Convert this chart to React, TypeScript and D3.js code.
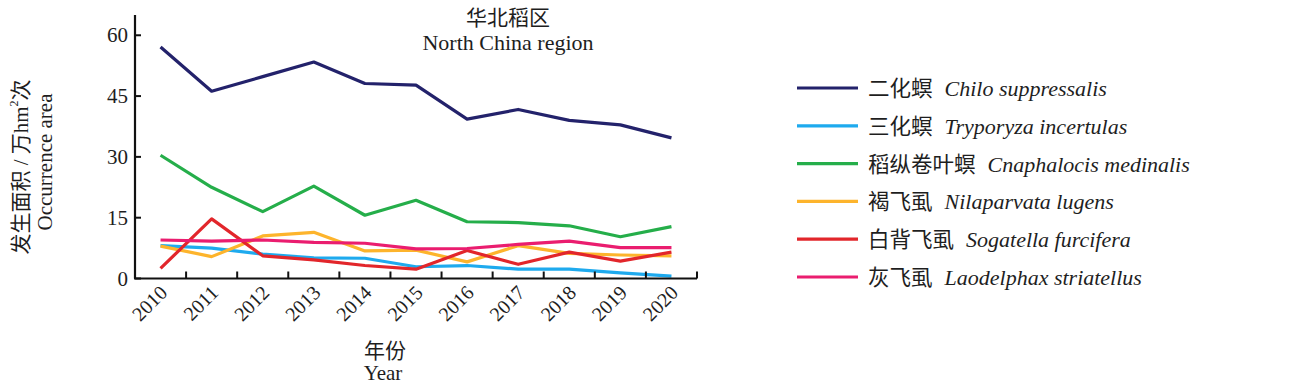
import { line, scaleBand, scaleLinear } from 'd3'
import { useMemo } from 'react'

const years = ['2010', '2011', '2012', '2013', '2014', '2015', '2016', '2017', '2018', '2019', '2020']
const yTicks = [0, 15, 30, 45, 60]

const chiloValues = [57.1, 46.2, 49.8, 53.4, 48.1, 47.7, 39.3, 41.7, 39.0, 37.9, 34.7]
const tryporyzaValues = [8.1, 7.5, 6.0, 5.1, 5.0, 2.9, 3.2, 2.3, 2.3, 1.4, 0.6]
const cnaphalocisValues = [30.4, 22.5, 16.5, 22.8, 15.6, 19.3, 14.0, 13.8, 13.0, 10.3, 12.8]
const nilaparvataValues = [8.0, 5.4, 10.5, 11.4, 6.8, 7.0, 4.1, 8.1, 6.2, 5.8, 5.6]
const sogatellaValues = [2.5, 14.7, 5.6, 4.6, 3.2, 2.3, 6.9, 3.5, 6.5, 4.3, 6.5]
const laodelphaxValues = [9.5, 9.2, 9.5, 8.9, 8.7, 7.3, 7.4, 8.4, 9.2, 7.6, 7.6]

const seriesNames = ['二化螟', '三化螟', '稻纵卷叶螟', '褐飞虱', '白背飞虱', '灰飞虱']
const seriesLatin = [
  'Chilo suppressalis',
  'Tryporyza incertulas',
  'Cnaphalocis medinalis',
  'Nilaparvata lugens',
  'Sogatella furcifera',
  'Laodelphax striatellus',
]
const seriesColors = ['#23226b', '#1eaaee', '#25ae4a', '#fdb42c', '#e2262b', '#ea1d6f']
const seriesValues = [
  chiloValues,
  tryporyzaValues,
  cnaphalocisValues,
  nilaparvataValues,
  sogatellaValues,
  laodelphaxValues,
]

const width = 1315
const height = 387
const plot = { left: 135, right: 697, top: 15, bottom: 278.5 }
const legend = { x: 797, y: 88, step: 37.8, lineLength: 61 }
const font = "'Liberation Serif', 'Times New Roman', 'Noto Sans CJK SC', serif"
const ink = '#1e1e1e'

const App = () => {
  const { x, y, paths } = useMemo(() => {
    const x = scaleBand<string>().domain(years).range([plot.left, plot.right])
    const y = scaleLinear().domain([0, 65]).range([plot.bottom, plot.top])
    const gen = line<number>()
      .x((_, i) => (x(years[i]) ?? 0) + x.bandwidth() / 2)
      .y((d) => y(d))
    const paths = seriesValues.map((vals) => gen(vals) ?? '')
    return { x, y, paths }
  }, [])

  const bw = x.bandwidth()

  return (
    <div style={{ position: 'absolute', left: 0, top: 0 }}>
      <svg width={width} height={height} style={{ display: 'block', background: '#fff' }} fontFamily={font}>
        {/* title */}
        <text x={508} y={25} textAnchor="middle" fontSize={21} fill={ink}>
          华北稻区
        </text>
        <text x={508} y={50} textAnchor="middle" fontSize={22} fill={ink}>
          North China region
        </text>

        {/* lines */}
        {paths.map((d, i) => (
          <path key={seriesNames[i]} d={d} fill="none" stroke={seriesColors[i]} strokeWidth={3.2} strokeLinejoin="round" />
        ))}

        {/* y axis */}
        <line x1={plot.left} x2={plot.left} y1={plot.top} y2={plot.bottom} stroke="#111" strokeWidth={2.2} />
        {yTicks.map((t) => (
          <g key={t}>
            <line x1={plot.left} x2={plot.left + 6} y1={y(t)} y2={y(t)} stroke="#111" strokeWidth={2} />
            <text x={128} y={y(t)} textAnchor="end" dominantBaseline="central" fontSize={21} fill={ink}>
              {t}
            </text>
          </g>
        ))}

        {/* x axis */}
        <line x1={plot.left - 1} x2={plot.right} y1={plot.bottom} y2={plot.bottom} stroke="#111" strokeWidth={2.2} />
        {years.map((yr) => {
          const x0 = x(yr) ?? 0
          const cx = x0 + bw / 2
          return (
            <g key={yr}>
              <line x1={x0 + bw} x2={x0 + bw} y1={plot.bottom} y2={plot.bottom - 7} stroke="#111" strokeWidth={2} />
              <text
                transform={`translate(${cx + 3}, 289) rotate(-45)`}
                textAnchor="end"
                dy="0.35em"
                fontSize={20}
                fill={ink}
              >
                {yr}
              </text>
            </g>
          )
        })}

        {/* axis titles */}
        <text x={385} y={358} textAnchor="middle" fontSize={21} fill={ink}>
          年份
        </text>
        <text x={383} y={380} textAnchor="middle" fontSize={21} fill={ink}>
          Year
        </text>
        <text transform="translate(21, 167) rotate(-90)" textAnchor="middle" dominantBaseline="central" fontSize={21} fill={ink}>
          发生面积 / 万hm<tspan baselineShift="super" fontSize={12}>2</tspan>次
        </text>
        <text transform="translate(45, 162) rotate(-90)" textAnchor="middle" dominantBaseline="central" fontSize={21} fill={ink}>
          Occurrence area
        </text>

        {/* legend */}
        {seriesNames.map((name, i) => {
          const ly = legend.y + i * legend.step
          return (
            <g key={name}>
              <line
                x1={legend.x}
                x2={legend.x + legend.lineLength}
                y1={ly}
                y2={ly}
                stroke={seriesColors[i]}
                strokeWidth={3.2}
              />
              <text x={legend.x + 71} y={ly + 8} fontSize={21.5} fill={ink}>
                {name}
                <tspan dx={12} fontStyle="italic" fontSize={22}>
                  {seriesLatin[i]}
                </tspan>
              </text>
            </g>
          )
        })}
      </svg>
    </div>
  )
}

export default App
